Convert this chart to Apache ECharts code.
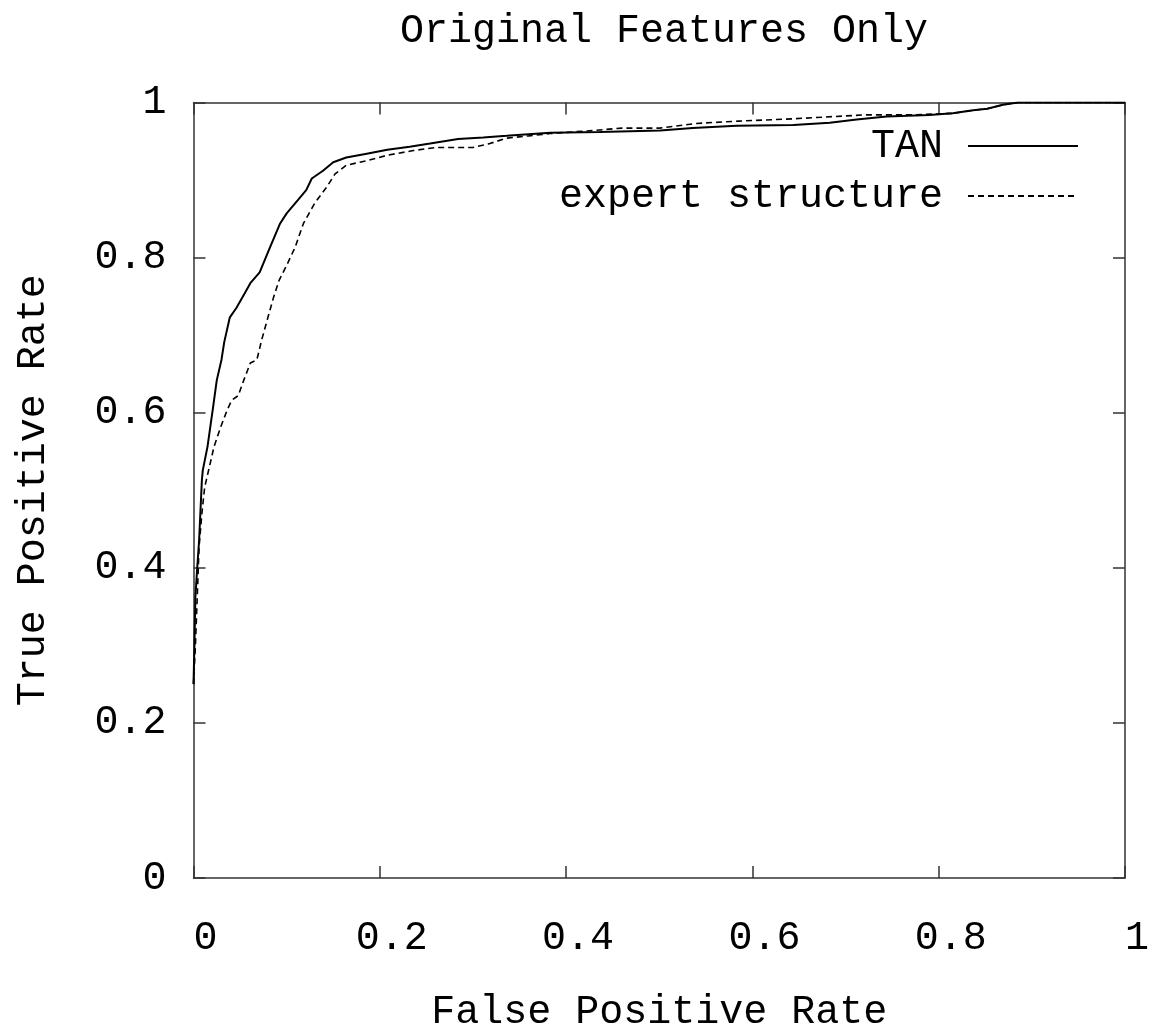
<!DOCTYPE html>
<html>
<head>
<meta charset="utf-8">
<script src="https://cdn.jsdelivr.net/npm/echarts@6/dist/echarts.min.js"></script>
<style>
  html, body { margin: 0; padding: 0; background: #fff; }
  #roc { width: 1149px; height: 1031px; }
</style>
</head>
<body>
<div id="roc"></div>
<script>
// ROC curves (false positive rate, true positive rate)
var tanFpr = [0, 0.001, 0.002, 0.004, 0.006, 0.009, 0.010, 0.015, 0.021, 0.025, 0.030, 0.033, 0.039, 0.046, 0.055, 0.061, 0.071, 0.082, 0.093, 0.100, 0.112, 0.121, 0.127, 0.139, 0.150, 0.164, 0.186, 0.208, 0.232, 0.254, 0.284, 0.311, 0.336, 0.383, 0.436, 0.501, 0.536, 0.583, 0.644, 0.683, 0.712, 0.744, 0.790, 0.815, 0.837, 0.852, 0.869, 0.885, 1];
var tanTpr = [0.25, 0.30, 0.362, 0.40, 0.435, 0.513, 0.526, 0.556, 0.607, 0.642, 0.668, 0.691, 0.723, 0.735, 0.754, 0.767, 0.781, 0.813, 0.844, 0.857, 0.874, 0.887, 0.902, 0.912, 0.923, 0.929, 0.934, 0.939, 0.943, 0.947, 0.953, 0.955, 0.957, 0.961, 0.962, 0.964, 0.967, 0.970, 0.971, 0.974, 0.978, 0.982, 0.984, 0.986, 0.990, 0.992, 0.997, 1.0, 1.0];

var expertFpr = [0, 0.002, 0.004, 0.006, 0.009, 0.012, 0.018, 0.022, 0.029, 0.036, 0.041, 0.048, 0.054, 0.061, 0.068, 0.073, 0.079, 0.086, 0.092, 0.100, 0.109, 0.118, 0.130, 0.143, 0.152, 0.164, 0.186, 0.208, 0.236, 0.260, 0.300, 0.318, 0.336, 0.360, 0.383, 0.430, 0.460, 0.500, 0.540, 0.585, 0.644, 0.720, 0.770, 0.815, 0.837, 0.852, 0.869, 0.885, 1];
var expertTpr = [0.25, 0.298, 0.362, 0.427, 0.470, 0.504, 0.535, 0.556, 0.581, 0.603, 0.616, 0.622, 0.642, 0.664, 0.668, 0.693, 0.719, 0.749, 0.771, 0.790, 0.813, 0.844, 0.870, 0.891, 0.908, 0.919, 0.925, 0.932, 0.938, 0.942, 0.942, 0.947, 0.954, 0.957, 0.960, 0.964, 0.967, 0.967, 0.973, 0.976, 0.979, 0.984, 0.984, 0.986, 0.990, 0.992, 0.997, 1.0, 1.0];

var seriesNames = ['TAN', 'expert structure'];

function pairs(xs, ys) {
  return xs.map(function (x, i) { return [x, ys[i]]; });
}

var font = 'Liberation Mono';
var axisLineStyle = { color: '#333', width: 1.5 };

var myChart = echarts.init(document.getElementById('roc'));

// box frame: bottom/left axes carry labels, top/right are mirrors with ticks only
function frameAxis(extra) {
  var base = {
    type: 'value',
    min: 0,
    max: 1,
    interval: 0.2,
    axisLine: { show: true, onZero: false, lineStyle: axisLineStyle },
    axisTick: { show: true, inside: true, length: 12, lineStyle: axisLineStyle },
    axisLabel: { show: false },
    splitLine: { show: false }
  };
  return Object.assign(base, extra);
}

var options = {
  backgroundColor: '#fff',
  animation: false,
  textStyle: { fontFamily: font, color: '#000' },
  title: {
    text: 'Original Features Only',
    left: 659,
    textAlign: 'center',
    top: 6,
    textStyle: { fontFamily: font, fontSize: 40, fontWeight: 'normal', color: '#000' }
  },
  legend: {
    orient: 'vertical',
    align: 'right',
    right: 65,
    top: 121,
    itemWidth: 110,
    itemHeight: 10,
    itemGap: 10,
    itemStyle: { opacity: 0 },
    textStyle: { fontFamily: font, fontSize: 40, color: '#000', lineHeight: 40, padding: [0, 20, 0, 0] },
    data: seriesNames
  },
  grid: {
    left: 193.5,
    right: 24,
    top: 102.5,
    bottom: 153,
    containLabel: false,
    outerBoundsMode: 'none'
  },
  xAxis: [
    frameAxis({
      position: 'bottom',
      name: 'False Positive Rate',
      nameLocation: 'middle',
      nameGap: 114,
      nameTextStyle: { fontFamily: font, fontSize: 40, color: '#000' },
      axisLabel: { show: true, fontFamily: font, fontSize: 40, color: '#000', margin: 40, padding: [0, 0, 0, 24] }
    }),
    frameAxis({ position: 'top' })
  ],
  yAxis: [
    frameAxis({
      position: 'left',
      name: 'True Positive Rate',
      nameLocation: 'middle',
      nameGap: 140,
      nameTextStyle: { fontFamily: font, fontSize: 40, color: '#000' },
      axisLabel: { show: true, fontFamily: font, fontSize: 40, color: '#000', margin: 27, padding: [10, 0, 0, 0] }
    }),
    frameAxis({ position: 'right' })
  ],
  series: [
    {
      name: seriesNames[0],
      type: 'line',
      symbol: 'none',
      lineStyle: { color: '#000', width: 2, type: 'solid' },
      itemStyle: { color: '#000' },
      data: pairs(tanFpr, tanTpr)
    },
    {
      name: seriesNames[1],
      type: 'line',
      symbol: 'none',
      lineStyle: { color: '#000', width: 1.6, type: [6, 4] },
      itemStyle: { color: '#000' },
      data: pairs(expertFpr, expertTpr)
    }
  ]
};

myChart.setOption(options);
</script>
</body>
</html>
